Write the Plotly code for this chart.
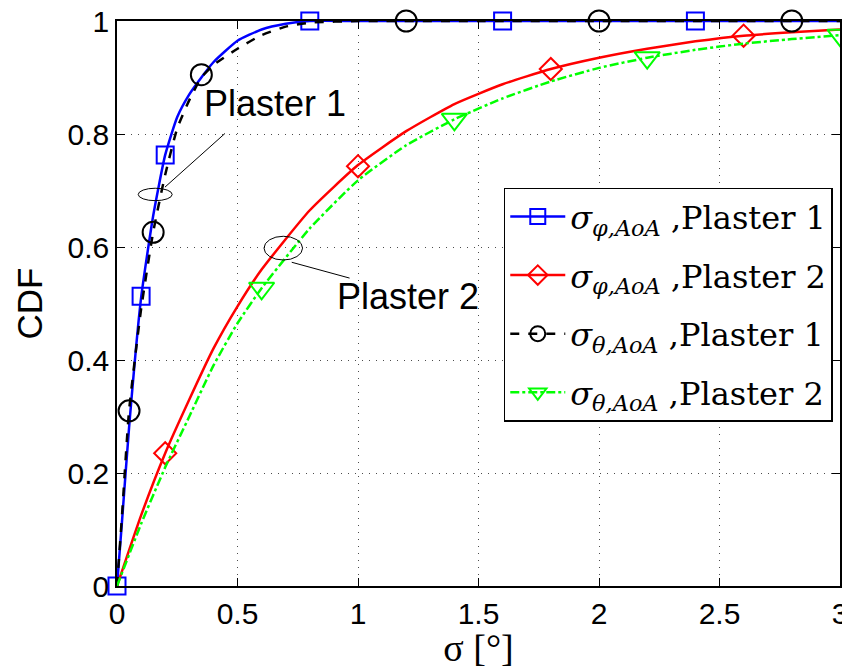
import plotly.graph_objects as go

# ---- data ----
x_b = [0, 0.02, 0.05, 0.1, 0.15, 0.2, 0.25, 0.3, 0.35, 0.4, 0.5, 0.6, 0.7, 0.8, 1.0, 1.5, 2.0, 2.5, 3.0]
y_b = [0, 0.11, 0.28, 0.51, 0.655, 0.763, 0.83, 0.87, 0.9, 0.927, 0.965, 0.985, 0.995, 1.0, 1.0, 1.0, 1.0, 1.0, 1.0]
mx_b = [0, 0.1, 0.2, 0.8, 1.6, 2.4]
my_b = [0, 0.513, 0.763, 1.0, 1.0, 1.0]

x_k = [0, 0.02, 0.05, 0.1, 0.15, 0.2, 0.25, 0.3, 0.35, 0.4, 0.5, 0.6, 0.7, 0.8, 1.0, 1.5, 2.0, 2.5, 3.0]
y_k = [0, 0.12, 0.31, 0.49, 0.626, 0.728, 0.81, 0.86, 0.9, 0.922, 0.951, 0.975, 0.99, 0.997, 1.0, 1.0, 1.0, 1.0, 1.0]
mx_k = [0.05, 0.15, 0.35, 1.2, 2.0, 2.8]
my_k = [0.31, 0.626, 0.905, 1.0, 1.0, 1.0]

x_r = [0, 0.1, 0.2, 0.3, 0.4, 0.5, 0.6, 0.8, 1.0, 1.2, 1.4, 1.6, 1.8, 2.0, 2.2, 2.4, 2.6, 2.8, 3.0]
y_r = [0, 0.125, 0.235, 0.33, 0.42, 0.495, 0.56, 0.665, 0.745, 0.805, 0.853, 0.888, 0.915, 0.935, 0.951, 0.964, 0.974, 0.98, 0.985]
mx_r = [0.2, 1.0, 1.8, 2.6]
my_r = [0.235, 0.743, 0.915, 0.974]

x_g = [0, 0.1, 0.2, 0.3, 0.4, 0.5, 0.6, 0.8, 1.0, 1.2, 1.4, 1.6, 1.8, 2.0, 2.2, 2.4, 2.6, 2.8, 3.0]
y_g = [0, 0.11, 0.21, 0.3, 0.39, 0.465, 0.527, 0.633, 0.718, 0.78, 0.826, 0.863, 0.893, 0.917, 0.935, 0.949, 0.96, 0.968, 0.975]
mx_g = [0.6, 1.4, 2.2, 3.0]
my_g = [0.527, 0.826, 0.935, 0.975]

x_ticks = [0, 0.5, 1, 1.5, 2, 2.5, 3]
x_ticklabels = ["0", "0.5", "1", "1.5", "2", "2.5", "3"]
y_ticks = [0, 0.2, 0.4, 0.6, 0.8, 1]
y_ticklabels = ["0", "0.2", "0.4", "0.6", "0.8", "1"]

names = [
    "<i>σ</i><sub><i>φ,AoA</i></sub> ,Plaster 1",
    "<i>σ</i><sub><i>φ,AoA</i></sub> ,Plaster 2",
    "<i>σ</i><sub><i>θ,AoA</i></sub> ,Plaster 1",
    "<i>σ</i><sub><i>θ,AoA</i></sub> ,Plaster 2",
]

series = [
    (x_b, y_b, mx_b, my_b, "#0000ff", "solid", "square-open", 17),
    (x_r, y_r, mx_r, my_r, "#ff0000", "solid", "diamond-open", 17),
    (x_k, y_k, mx_k, my_k, "#000000", "dash", "circle-open", 21),
    (x_g, y_g, mx_g, my_g, "#00ff00", "dashdot", "triangle-down-open", 22),
]

fig = go.Figure()
for i, (xl, yl, mx, my, col, dash, sym, sz) in enumerate(series):
    fig.add_trace(go.Scatter(x=xl, y=yl, mode="lines", line=dict(color=col, width=2.5, dash=dash,
                                                                   shape="spline", smoothing=0.5),
                             showlegend=False, hoverinfo="skip"))
    fig.add_trace(go.Scatter(x=mx, y=my, mode="markers", cliponaxis=False,
                             marker=dict(symbol=sym, size=sz, color=col, line=dict(width=2, color=col)),
                             showlegend=False))
    fig.add_trace(go.Scatter(x=[None], y=[None], mode="lines+markers", name=names[i],
                             legendgroup=f"g{i}",
                             line=dict(color=col, width=2.5, dash=dash),
                             marker=dict(symbol=sym, size=15, color=col, line=dict(width=2, color=col))))

# annotations (callouts)
fig.add_shape(type="circle", xref="x", yref="y", x0=0.088, x1=0.229, y0=0.682, y1=0.704,
              line=dict(color="black", width=1))
fig.add_shape(type="line", xref="x", yref="y", x0=0.448, y0=0.801, x1=0.199, y1=0.706,
              line=dict(color="black", width=1))
fig.add_shape(type="circle", xref="x", yref="y", x0=0.61, x1=0.77, y0=0.577, y1=0.619,
              line=dict(color="black", width=1))
fig.add_shape(type="line", xref="x", yref="y", x0=0.725, y0=0.573, x1=0.965, y1=0.545,
              line=dict(color="black", width=1))
fig.add_annotation(x=0.656, y=0.854, xref="x", yref="y", text="Plaster 1", showarrow=False,
                   font=dict(family="Liberation Sans", size=36, color="black"))
fig.add_annotation(x=1.207, y=0.513, xref="x", yref="y", text="Plaster 2", showarrow=False,
                   font=dict(family="Liberation Sans", size=36, color="black"))

# page body has an 8px margin: shift the figure accordingly
fig.update_layout(
    width=842, height=661,
    margin=dict(l=109, r=10, t=13, b=83),
    paper_bgcolor="white", plot_bgcolor="white",
    font=dict(family="Liberation Sans", color="black"),
    showlegend=True,
    legend=dict(x=0.99, y=0.705, xanchor="right", yanchor="top",
                bgcolor="white", bordercolor="black", borderwidth=1.5,
                font=dict(family="DejaVu Serif", size=32, color="black"),
                tracegroupgap=14, itemwidth=55),
)
fig.update_xaxes(range=[0, 3], tickvals=x_ticks, ticktext=x_ticklabels, automargin=False,
                 ticklabeloverflow="allow",
                 showline=True, linecolor="black", linewidth=1.5, mirror="ticks",
                 ticks="inside", ticklen=8, tickcolor="black",
                 showgrid=True, gridcolor="rgba(0,0,0,0.7)", griddash="1px,6px", gridwidth=1,
                 zeroline=False, tickfont=dict(size=30),
                 title=dict(text="σ [°]", font=dict(family="Liberation Serif", size=38), standoff=9))
fig.update_yaxes(range=[0, 1], tickvals=y_ticks, ticktext=y_ticklabels, automargin=False,
                 ticklabeloverflow="allow",
                 showline=True, linecolor="black", linewidth=1.5, mirror="ticks",
                 ticks="inside", ticklen=8, tickcolor="black",
                 showgrid=True, gridcolor="rgba(0,0,0,0.7)", griddash="1px,6px", gridwidth=1,
                 zeroline=False, tickfont=dict(size=30),
                 title=dict(text="CDF", font=dict(family="Liberation Sans", size=35), standoff=14))

fig.write_html("out.html")
